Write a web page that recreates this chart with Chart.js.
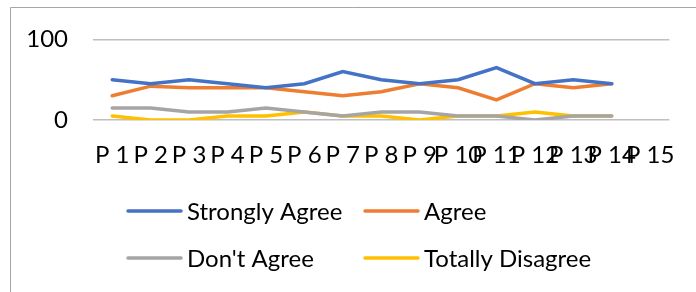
<!DOCTYPE html>
<html>
<head>
<meta charset="utf-8">
<script src="https://cdn.jsdelivr.net/npm/chart.js@4.4.1/dist/chart.umd.min.js"></script>
<style>
  html, body { margin: 0; padding: 0; background: #fff; }
  #wrap { width: 696px; height: 292px; position: relative; }
</style>
</head>
<body>
<div id="wrap"><canvas id="surveyChart" width="696" height="292"></canvas></div>
<script>
// categories + series
const categories = ["P 1", "P 2", "P 3", "P 4", "P 5", "P 6", "P 7", "P 8", "P 9", "P 10", "P 11", "P 12", "P 13", "P 14", "P 15"];
const stronglyAgree = [50, 45, 50, 45, 40, 45, 60, 50, 45, 50, 65, 45, 50, 45, null];
const agree = [30, 42, 40, 40, 40, 35, 30, 35, 45, 40, 25, 45, 40, 45, null];
const dontAgree = [15, 15, 10, 10, 15, 10, 5, 10, 10, 5, 5, 0, 5, 5, null];
const totallyDisagree = [5, 0, 0, 5, 5, 10, 5, 5, 0, 5, 5, 10, 5, 5, null];
const yTicks = [0, 100];

const FONT = "Lato, 'Open Sans', sans-serif";

// frame + 2-column legend, drawn on the canvas
const framePlugin = {
  id: "frame",
  afterDraw(chart) {
    const c = chart.ctx;
    c.save();
    c.strokeStyle = "#A6A6A6";
    c.lineWidth = 1;
    c.beginPath();
    c.moveTo(10.5, 292);
    c.lineTo(10.5, 7.5);
    c.lineTo(696, 7.5);
    c.stroke();

    const cols = [128, 365];
    const rows = [211, 258];
    c.font = "24px " + FONT;
    c.textBaseline = "middle";
    c.fillStyle = "#000";
    chart.data.datasets.forEach((ds, i) => {
      const x = cols[i % 2];
      const y = rows[Math.floor(i / 2)];
      c.strokeStyle = ds.borderColor;
      c.lineWidth = 3.5;
      c.lineCap = "round";
      c.beginPath();
      c.moveTo(x, y);
      c.lineTo(x + 53, y);
      c.stroke();
      c.fillText(ds.label, x + 59, y + 1);
    });
    c.restore();
  }
};

const ctx = document.getElementById("surveyChart").getContext("2d");
const surveyChart = new Chart(ctx, {
  type: "line",
  data: {
    labels: categories,
    datasets: [
      { label: "Strongly Agree", data: stronglyAgree, borderColor: "#4472C4" },
      { label: "Agree", data: agree, borderColor: "#ED7D31" },
      { label: "Don't Agree", data: dontAgree, borderColor: "#A5A5A5" },
      { label: "Totally Disagree", data: totallyDisagree, borderColor: "#FFC000" },
    ].map(d => ({ ...d, borderWidth: 3.5, pointRadius: 0, tension: 0, fill: false, borderCapStyle: "round" })),
  },
  options: {
    responsive: false,
    animation: false,
    events: [],
    layout: { padding: { left: 10, right: 19, top: 38, bottom: 122 } },
    plugins: { legend: { display: false }, tooltip: { enabled: false } },
    scales: {
      x: {
        offset: true,
        grid: { display: false, drawTicks: false },
        border: { display: false },
        ticks: {
          autoSkip: false, maxRotation: 0, minRotation: 0, padding: 21,
          color: "#000", font: { family: FONT, size: 24 }
        },
        afterFit: (s) => { s.height = 50; },
      },
      y: {
        min: 0, max: 100,
        afterBuildTicks: (s) => { s.ticks = yTicks.map(v => ({ value: v })); },
        grid: { color: "#BFBFBF", lineWidth: 1.5, drawTicks: false },
        border: { display: false },
        ticks: { padding: 25, color: "#000", font: { family: FONT, size: 24 } },
        afterFit: (s) => { s.width = 83; },
      },
    },
  },
  plugins: [framePlugin],
});
</script>
</body>
</html>
